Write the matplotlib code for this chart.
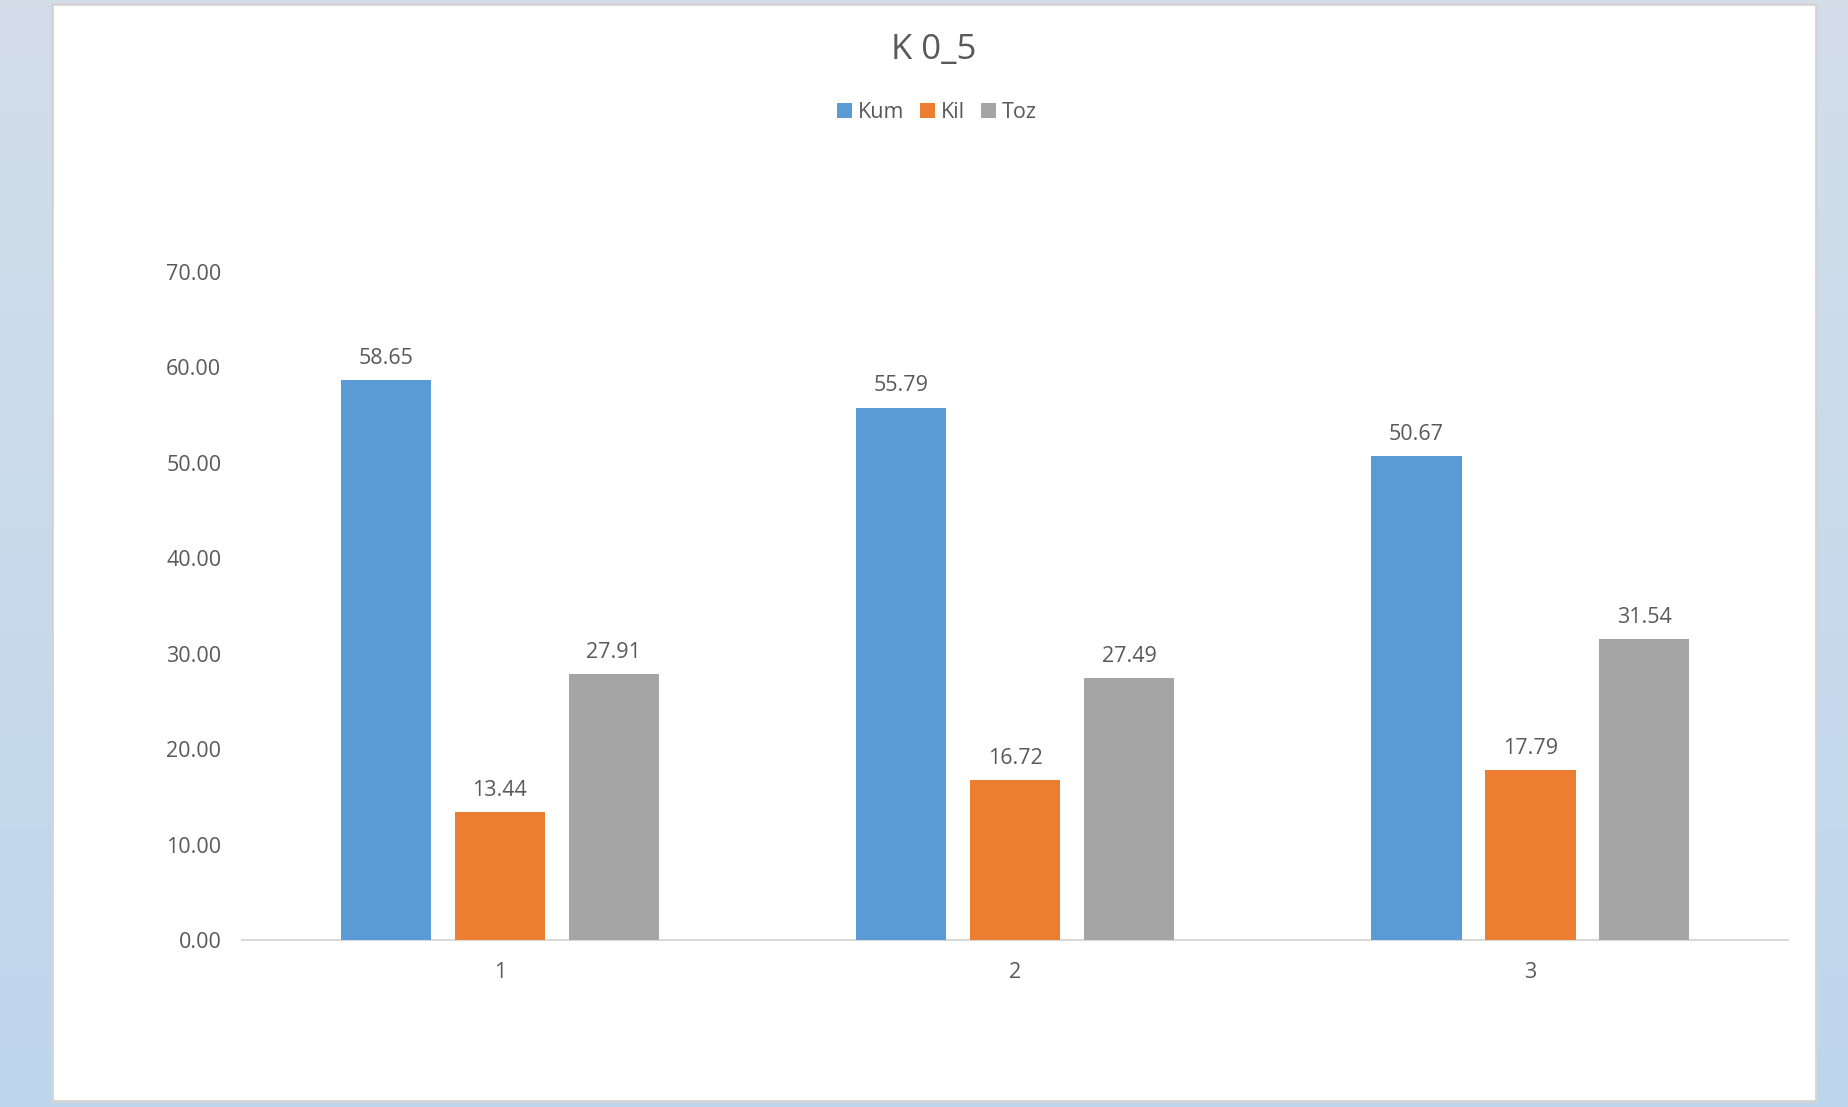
#bar chart of the kum / kil / toz shares for K 0_5

import numpy as np
import matplotlib.pyplot as plt
from matplotlib.patches import Rectangle


#data
categories = ["1", "2", "3"]
kum = [58.65, 55.79, 50.67]
kil = [13.44, 16.72, 17.79]
toz = [27.91, 27.49, 31.54]

seriesNames = ["Kum", "Kil", "Toz"]
seriesColors = ["#5B9BD5", "#ED7D31", "#A5A5A5"]
yTicks = [0, 10, 20, 30, 40, 50, 60, 70]

textColor = "#595959"
fontSize = 15.5
plt.rcParams["font.family"] = ["Open Sans", "DejaVu Sans"]


def drawBackground(fig):

    #blue gradient behind the chart panel
    bg = fig.add_axes([0, 0, 1, 1], zorder=-10)
    top = np.array([211, 222, 233]) / 255.0
    bottom = np.array([190, 214, 237]) / 255.0
    t = np.linspace(0, 1, 256)[:, None]
    grad = top * (1 - t) + bottom * t
    bg.imshow(grad[:, None, :], aspect="auto", extent=[0, 1, 0, 1])
    bg.set_xlim(0, 1)
    bg.set_ylim(0, 1)
    bg.axis("off")

    #white panel with a thin gray edge
    bg.add_patch(Rectangle((0.0281, 0.0054), 0.9546, 0.9910,
                           facecolor="white", edgecolor="#D4D4D4", linewidth=2))


def createGraph():

    fig = plt.figure(figsize=(18.48, 11.07), dpi=100)
    drawBackground(fig)

    ax = fig.add_axes([0.1310, 0.1509, 0.8366, 0.6034])
    ax.set_facecolor("none")

    x = np.arange(1, len(categories) + 1)
    width = 0.175
    step = 0.221
    values = [kum, kil, toz]

    for i in range(len(values)):
        bars = ax.bar(x + (i - 1) * step, values[i], width,
                      color=seriesColors[i], label=seriesNames[i], zorder=3)
        ax.bar_label(bars, labels=["{:.2f}".format(v) for v in values[i]],
                     padding=8, fontsize=fontSize, color=textColor)

    ax.set_xlim(0.5, 3.5)
    ax.set_ylim(0, 70)
    ax.set_xticks(x)
    ax.set_xticklabels(categories)
    ax.set_yticks(yTicks)
    ax.set_yticklabels(["{:.2f}".format(v) for v in yTicks])
    ax.tick_params(axis="both", length=0, labelsize=fontSize, labelcolor=textColor)
    ax.tick_params(axis="x", pad=16)
    ax.tick_params(axis="y", pad=15)

    for s in ["top", "right", "left"]:
        ax.spines[s].set_visible(False)
    ax.spines["bottom"].set_color("#D9D9D9")
    ax.spines["bottom"].set_linewidth(1.5)

    fig.text(0.5055, 0.955, "K 0_5", ha="center", va="center",
             fontsize=25, color=textColor)

    fig.legend(loc="center", bbox_to_anchor=(0.507, 0.898), ncol=3,
               frameon=False, fontsize=fontSize, labelcolor=textColor,
               handlelength=0.7, handleheight=0.7, handletextpad=0.3,
               columnspacing=0.7)

    fig.savefig("out.png", dpi=100)


createGraph()
